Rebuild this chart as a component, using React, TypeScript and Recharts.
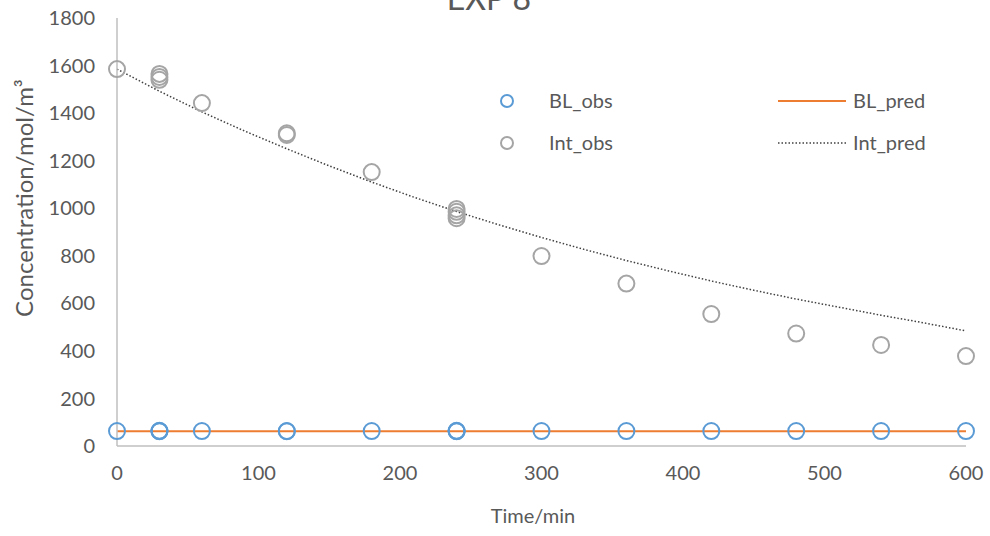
import React from "react";
import { ComposedChart, Scatter, Line, XAxis, YAxis } from "recharts";

const xTicks = [0, 100, 200, 300, 400, 500, 600];
const yTicks = [0, 200, 400, 600, 800, 1000, 1200, 1400, 1600, 1800];

const blObsT = [0, 30, 30, 30, 60, 120, 120, 180, 240, 240, 240, 300, 360, 420, 480, 540, 600];
const blObsC = [63, 63, 62, 64, 63, 63, 62, 63, 63, 62, 64, 63, 63, 63, 63, 63, 63];

const intObsT = [0, 30, 30, 30, 60, 120, 120, 180, 240, 240, 240, 240, 300, 360, 420, 480, 540, 600];
const intObsC = [1585, 1565, 1552, 1540, 1442, 1315, 1308, 1152, 997, 985, 970, 958, 799, 683, 555, 473, 425, 378];

const blPredT = [0, 600];
const blPredC = [62, 62];

const intPredT = [0, 30, 60, 90, 120, 150, 180, 210, 240, 270, 300, 330, 360, 390, 420, 450, 480, 510, 540, 570, 600];
const intPredC = [1585, 1492, 1405, 1325, 1250, 1178, 1110, 1046, 986, 930, 877, 827, 780, 736, 694, 655, 618, 584, 550, 518, 484];

const blObs = blObsT.map((t, i) => ({ t, c: blObsC[i] }));
const intObs = intObsT.map((t, i) => ({ t, c: intObsC[i] }));
const blPred = blPredT.map((t, i) => ({ t, c: blPredC[i] }));
const intPred = intPredT.map((t, i) => ({ t, c: intPredC[i] }));

const FONT = "Lato, 'Open Sans', sans-serif";
const BLUE = "#5b9bd5";
const GRAY = "#a5a5a5";
const ORANGE = "#ed7d31";
const TXT = "#595959";

const ring = (color: string) => (props: any) => (
  <circle cx={props.cx} cy={props.cy} r={8} fill="none" stroke={color} strokeWidth={2} />
);

export default function App() {
  return (
    <div style={{ position: "absolute", left: 0, top: 0, width: 990, height: 536, background: "#fff", fontFamily: FONT, overflow: "hidden" }}>
      <ComposedChart width={990} height={536} margin={{ top: 18, right: 24, bottom: 0, left: 0 }}>
        <XAxis
          type="number"
          dataKey="t"
          domain={[0, 600]}
          ticks={xTicks}
          height={90}
          allowDuplicatedCategory={false}
          stroke="#bfbfbf"
          strokeWidth={1.5}
          tickLine={false}
          tick={{ fill: TXT, fontSize: 20, fontFamily: FONT }}
          tickMargin={14}
        />
        <YAxis
          type="number"
          dataKey="c"
          domain={[0, 1800]}
          ticks={yTicks}
          width={117}
          stroke="#bfbfbf"
          strokeWidth={1.5}
          tickLine={false}
          tick={{ fill: TXT, fontSize: 20, fontFamily: FONT }}
          tickMargin={16}
        />
        <Line data={blPred} dataKey="c" type="linear" stroke={ORANGE} strokeWidth={2} dot={false} isAnimationActive={false} />
        <Line data={intPred} dataKey="c" type="linear" stroke="#404040" strokeWidth={1.5} strokeDasharray="1.5 2" dot={false} isAnimationActive={false} />
        <Scatter data={blObs} dataKey="c" shape={ring(BLUE)} isAnimationActive={false} />
        <Scatter data={intObs} dataKey="c" shape={ring(GRAY)} isAnimationActive={false} />
      </ComposedChart>
      <svg style={{ position: "absolute", left: 0, top: 0 }} width={990} height={536}>
        <text x={489} y={10} textAnchor="middle" fontSize={32} fill={TXT} fontFamily={FONT}>EXP 8</text>
        <text x={533} y={523} textAnchor="middle" fontSize={20} fill={TXT} fontFamily={FONT}>Time/min</text>
        <text transform="translate(33,198) rotate(-90)" textAnchor="middle" fontSize={24} fill={TXT} fontFamily={FONT}>
          Concentration/mol/m³
        </text>
        <circle cx={507} cy={101} r={6} fill="none" stroke={BLUE} strokeWidth={2} />
        <circle cx={507} cy={143} r={6} fill="none" stroke={GRAY} strokeWidth={2} />
        <line x1={778} y1={101} x2={846} y2={101} stroke={ORANGE} strokeWidth={2} />
        <line x1={778} y1={143} x2={846} y2={143} stroke="#404040" strokeWidth={1.5} strokeDasharray="1.5 2" />
        <g fill={TXT} fontSize={20} fontFamily={FONT}>
          <text x={549} y={108}>BL_obs</text>
          <text x={549} y={150}>Int_obs</text>
          <text x={853} y={108}>BL_pred</text>
          <text x={853} y={150}>Int_pred</text>
        </g>
      </svg>
    </div>
  );
}
